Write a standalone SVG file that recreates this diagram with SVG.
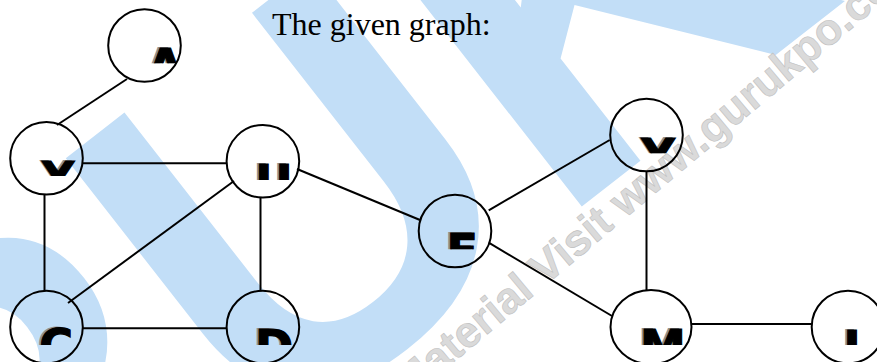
<svg xmlns="http://www.w3.org/2000/svg" width="877" height="362" viewBox="0 0 877 362">
  <style>
    .edge { stroke: #000; stroke-width: 2; fill: none; }
    .node { fill: none; stroke: #000; stroke-width: 2; }
    .lbl { font-family: "DejaVu Sans", "Liberation Sans", sans-serif; font-weight: bold; font-size: 46px; }
    .sh { fill: #8f8f8f; }
    .fg { fill: #000; stroke: #000; stroke-width: 1.2; }
    .title { font-family: "Liberation Serif", "Times New Roman", serif; font-size: 32px; fill: #000; }
    .wm-blue { font-family: "Liberation Sans", Arial, sans-serif; font-weight: bold; fill: #c2def7; }
    .wm-grey { font-family: "Liberation Sans", Arial, sans-serif; font-weight: bold; fill: #dadada; stroke: #c0c0c0; stroke-width: 0.6; }
  </style>
  <defs>
    <!-- each label shows only the upper part of its letter -->
    <clipPath id="labelClip">
      <rect x="108" y="40" width="73" height="23.3"/>
      <rect x="10" y="150" width="73" height="26"/>
      <rect x="226" y="150" width="73" height="30"/>
      <rect x="610" y="128" width="74" height="25.3"/>
      <rect x="418" y="222" width="73" height="27.3"/>
      <rect x="10" y="318" width="73" height="27"/>
      <rect x="226" y="318" width="73" height="27"/>
      <rect x="610" y="318" width="82" height="27"/>
      <rect x="811" y="318" width="66" height="27"/>
    </clipPath>
  </defs>

  <rect width="877" height="362" fill="#fff"/>

  <!-- background watermark -->
  <g id="watermark">
    <text class="wm-blue" x="-645" y="1165" font-size="517" transform="rotate(-38 -645 1165)">GURUKPO</text>
    <text class="wm-grey" x="392" y="368" font-size="44" transform="rotate(-40 445 362)">Material Visit www.gurukpo.com</text>
  </g>

  <text class="title" x="272" y="34.5">The given graph:</text>

  <g id="edges">
    <line class="edge" x1="127" y1="79" x2="57" y2="125"/>
    <line class="edge" x1="83" y1="163.3" x2="227" y2="163.3"/>
    <line class="edge" x1="44.5" y1="194.5" x2="44.5" y2="290.5"/>
    <line class="edge" x1="234" y1="181" x2="68" y2="303"/>
    <line class="edge" x1="260.5" y1="197.5" x2="260.5" y2="290.5"/>
    <line class="edge" x1="83" y1="328.3" x2="227" y2="328.3"/>
    <line class="edge" x1="297" y1="169" x2="420" y2="220"/>
    <line class="edge" x1="488.7" y1="210.3" x2="609.7" y2="140"/>
    <line class="edge" x1="488.7" y1="242.7" x2="612" y2="316"/>
    <line class="edge" x1="646.5" y1="171" x2="646.5" y2="290.5"/>
    <line class="edge" x1="691.5" y1="324" x2="811.5" y2="324"/>
  </g>

  <g id="node-A">
    <circle class="node" cx="144.5" cy="45.5" r="36.3"/>
    <g class="lbl" clip-path="url(#labelClip)">
      <text class="sh" x="145" y="81">A</text>
      <text class="fg" x="147.5" y="82">A</text>
    </g>
  </g>
  <g id="node-X">
    <circle class="node" cx="46.5" cy="158.3" r="36.3"/>
    <g class="lbl" clip-path="url(#labelClip)">
      <text class="sh" x="38" y="194.2">X</text>
      <text class="fg" x="40.5" y="195.2">X</text>
    </g>
  </g>
  <g id="node-U">
    <circle class="node" cx="262.9" cy="161.3" r="36.3"/>
    <g class="lbl" clip-path="url(#labelClip)">
      <text class="sh" x="252.8" y="196.5">U</text>
      <text class="fg" x="255.3" y="197.5">U</text>
    </g>
  </g>
  <g id="node-Y">
    <circle class="node" cx="646.5" cy="135" r="36.3"/>
    <g class="lbl" clip-path="url(#labelClip)">
      <text class="sh" x="639" y="170.8">Y</text>
      <text class="fg" x="641.5" y="171.8">Y</text>
    </g>
  </g>
  <g id="node-E">
    <circle class="node" cx="455" cy="231" r="36.3"/>
    <g class="lbl" clip-path="url(#labelClip)">
      <text class="sh" x="443.9" y="265.8">E</text>
      <text class="fg" x="446.4" y="266.8">E</text>
    </g>
  </g>
  <g id="node-C">
    <circle class="node" cx="46.5" cy="327" r="36.3"/>
    <g class="lbl" clip-path="url(#labelClip)">
      <text class="sh" x="36.7" y="360.8">C</text>
      <text class="fg" x="39.2" y="361.8">C</text>
    </g>
  </g>
  <g id="node-D">
    <circle class="node" cx="262.9" cy="327" r="36.3"/>
    <g class="lbl" clip-path="url(#labelClip)">
      <text class="sh" x="252.4" y="361.8">D</text>
      <text class="fg" x="254.9" y="362.8">D</text>
    </g>
  </g>
  <g id="node-M">
    <ellipse class="node" cx="651" cy="327" rx="40.5" ry="37"/>
    <g class="lbl" clip-path="url(#labelClip)">
      <text class="sh" x="637.4" y="361.8">M</text>
      <text class="fg" x="639.9" y="362.8">M</text>
    </g>
  </g>
  <g id="node-L">
    <circle class="node" cx="848" cy="327" r="36.3"/>
    <g class="lbl" clip-path="url(#labelClip)">
      <text class="sh" x="840.9" y="362.5">L</text>
      <text class="fg" x="843.4" y="363.5">L</text>
    </g>
  </g>
</svg>
